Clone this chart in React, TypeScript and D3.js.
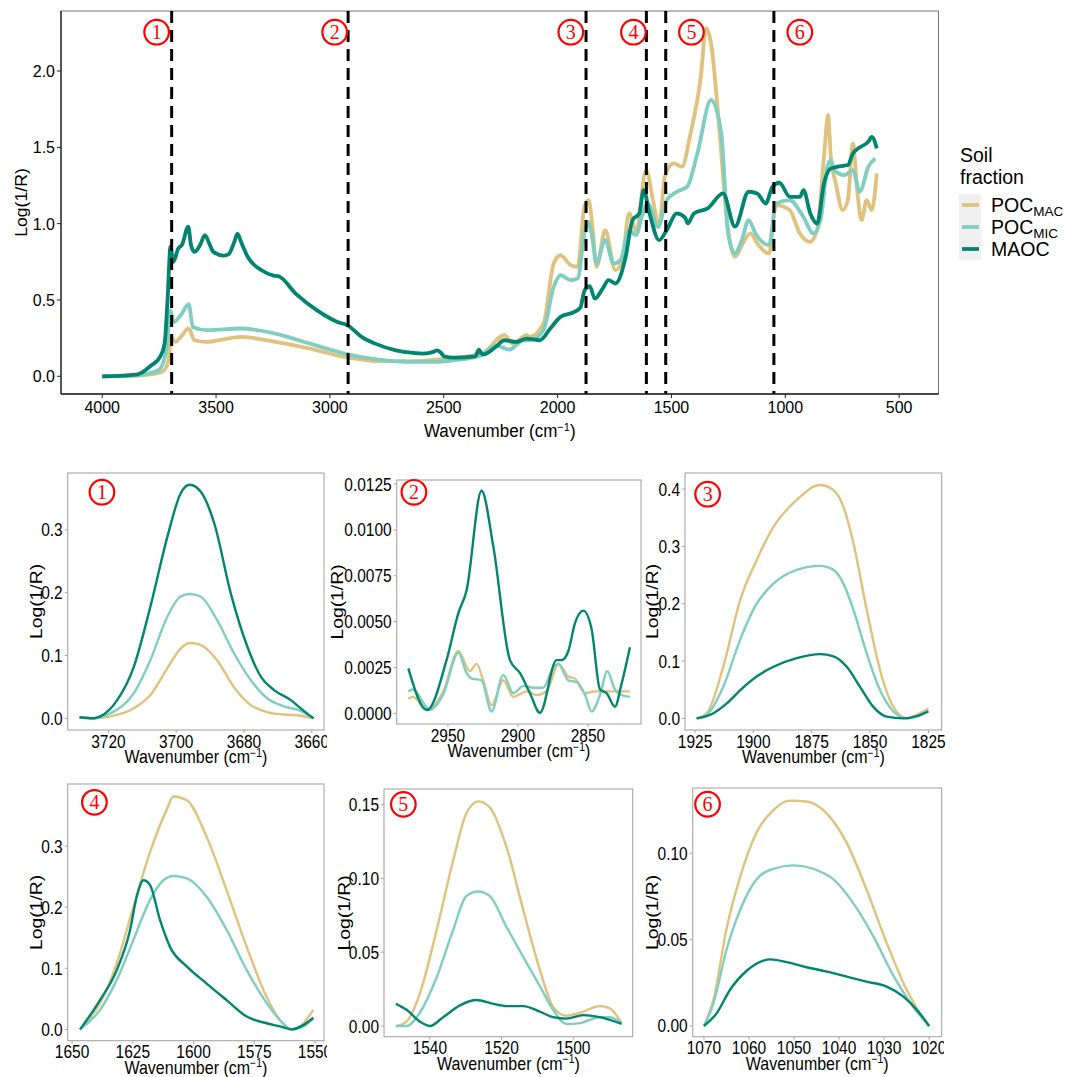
import * as d3 from "d3";
import React from "react";

type Pt = [number, number];

const FONT = "'Liberation Sans', Arial, Helvetica, sans-serif";
const SERIF = "'Liberation Serif', 'Times New Roman', serif";
const C_MAC = "#dfc27d";
const C_MIC = "#80cdc1";
const C_MAOC = "#018571";

// ---- full spectrum (wavenumber, log(1/R)) ----
const mainMAC: Pt[] = [
  [4000, 0], [3844, 0.004], [3738, 0.028], [3708, 0.105], [3698, 0.258], [3678, 0.225],
  [3655, 0.258], [3620, 0.313], [3595, 0.236], [3542, 0.225], [3391, 0.258], [3239, 0.225],
  [3088, 0.181], [2937, 0.127], [2786, 0.1], [2635, 0.1], [2484, 0.116], [2332, 0.149],
  [2234, 0.269], [2196, 0.214], [2136, 0.269], [2122, 0.258], [2062, 0.345], [2017, 0.739],
  [1987, 0.793], [1942, 0.728], [1912, 0.717], [1882, 1.11], [1864, 1.154], [1844, 0.936],
  [1829, 0.717], [1791, 0.957], [1746, 0.695], [1716, 0.761], [1686, 1.067], [1656, 0.957],
  [1611, 1.351], [1581, 1.154], [1554, 0.979], [1529, 1.307], [1491, 1.395], [1454, 1.373],
  [1416, 1.591], [1371, 1.963], [1348, 2.28], [1326, 2.181], [1288, 1.591], [1258, 1.045],
  [1221, 0.783], [1183, 0.881], [1153, 0.936], [1123, 0.87], [1071, 0.804], [1041, 1.121],
  [981, 1.089], [936, 0.936], [891, 0.881], [860, 0.957], [830, 1.438], [812, 1.711],
  [800, 1.438], [778, 1.263], [748, 1.089], [725, 1.154], [703, 1.526], [683, 1.198],
  [665, 1.023], [643, 1.154], [620, 1.089], [598, 1.329],
];
const mainMIC: Pt[] = [
  [4000, 0], [3844, 0.007], [3754, 0.039], [3730, 0.1], [3716, 0.192], [3701, 0.433],
  [3686, 0.356], [3655, 0.4], [3620, 0.472], [3602, 0.323], [3542, 0.302], [3391, 0.313],
  [3239, 0.28], [3088, 0.214], [2937, 0.149], [2786, 0.109], [2635, 0.094], [2559, 0.094],
  [2453, 0.105], [2332, 0.138], [2272, 0.203], [2211, 0.175], [2151, 0.236], [2122, 0.236],
  [2062, 0.302], [2017, 0.586], [1987, 0.662], [1942, 0.63], [1912, 0.64], [1882, 0.936],
  [1867, 1.012], [1851, 0.936], [1829, 0.739], [1791, 0.892], [1754, 0.739], [1724, 0.761],
  [1686, 0.957], [1656, 0.925], [1626, 1.067], [1604, 1.132], [1559, 0.979], [1521, 1.154],
  [1476, 1.209], [1431, 1.242], [1386, 1.46], [1326, 1.81], [1281, 1.591], [1251, 0.936],
  [1221, 0.804], [1191, 0.892], [1161, 1.023], [1131, 0.936], [1071, 0.859], [1041, 1.132],
  [981, 1.154], [921, 1.045], [876, 0.936], [845, 1.023], [815, 1.373], [800, 1.416],
  [785, 1.351], [740, 1.318], [703, 1.351], [673, 1.209], [635, 1.373], [605, 1.427],
];
const mainMAOC: Pt[] = [
  [4000, 0], [3900, 0.005], [3844, 0.013], [3784, 0.072], [3746, 0.127], [3726, 0.214],
  [3713, 0.5], [3700, 0.85], [3688, 0.75], [3665, 0.84], [3650, 0.86], [3622, 0.98],
  [3610, 0.86], [3595, 0.815], [3570, 0.86], [3549, 0.925], [3530, 0.87], [3512, 0.815],
  [3466, 0.79], [3444, 0.8], [3420, 0.88], [3406, 0.935], [3390, 0.88], [3360, 0.78],
  [3300, 0.695], [3247, 0.66], [3225, 0.655], [3149, 0.54], [3058, 0.433], [2967, 0.356],
  [2922, 0.334], [2861, 0.258], [2801, 0.214], [2710, 0.17], [2635, 0.153], [2589, 0.149],
  [2545, 0.16], [2529, 0.17], [2510, 0.15], [2499, 0.131], [2453, 0.122], [2362, 0.131],
  [2345, 0.175], [2335, 0.15], [2325, 0.144], [2272, 0.192], [2234, 0.236], [2181, 0.225],
  [2136, 0.247], [2078, 0.236], [2032, 0.313], [1987, 0.389], [1926, 0.422], [1900, 0.45],
  [1881, 0.564], [1859, 0.59], [1836, 0.509], [1800, 0.58], [1776, 0.63], [1746, 0.608],
  [1701, 0.783], [1671, 1.023], [1641, 1.067], [1622, 1.22], [1596, 1.067], [1554, 0.892],
  [1521, 0.957], [1476, 1.067], [1440, 1.04], [1428, 1.001], [1401, 1.067], [1341, 1.1],
  [1273, 1.198], [1221, 0.98], [1161, 1.209], [1123, 1.198], [1086, 1.132], [1056, 1.242],
  [1026, 1.268], [980, 1.176], [935, 1.176], [920, 1.22], [890, 1.067], [860, 1.001],
  [830, 1.263], [800, 1.362], [770, 1.373], [740, 1.38], [725, 1.384], [703, 1.46],
  [680, 1.493], [635, 1.537], [620, 1.569], [598, 1.493],
];

const regionLines = [3695, 2920, 1875, 1610, 1525, 1050];
const regionNames = ["1", "2", "3", "4", "5", "6"];
const regionLabelX = [3761, 2979, 1942, 1667, 1412, 936];
const regionLabelY = 2.254;
const mainXTicks = [4000, 3500, 3000, 2500, 2000, 1500, 1000, 500];
const mainYTicks = [0, 0.5, 1, 1.5, 2];

// ---- region 1 ----
const r1MAC: Pt[] = [
  [3728.5, 0.0016], [3724.3, 0], [3719.4, 0.003], [3712.5, 0.016], [3707.6, 0.037], [3702.6, 0.08],
  [3698.7, 0.111], [3696, 0.12], [3692.8, 0.117], [3688, 0.093], [3683, 0.05], [3678, 0.021],
  [3673.2, 0.01], [3668.2, 0.006], [3663.3, 0.004], [3659.5, 0],
];
const r1MIC: Pt[] = [
  [3728.5, 0.0016], [3724.3, 0], [3719.4, 0.008], [3712.5, 0.04], [3707.6, 0.093], [3702.6, 0.162],
  [3698.7, 0.194], [3696, 0.198], [3692.8, 0.194], [3688, 0.157], [3683, 0.104], [3678, 0.061],
  [3673.2, 0.032], [3668.2, 0.019], [3663.3, 0.012], [3659.5, 0],
];
const r1MAOC: Pt[] = [
  [3728.5, 0.0016], [3724.3, 0], [3722.4, 0.003], [3717.4, 0.029], [3712.5, 0.082], [3707.6, 0.178],
  [3702.6, 0.289], [3698.7, 0.358], [3696, 0.372], [3692.8, 0.361], [3688.8, 0.311], [3683.9, 0.199],
  [3679, 0.114], [3675, 0.066], [3671.1, 0.045], [3666.2, 0.029], [3662.2, 0.011], [3659.5, 0],
];

// ---- region 2 ----
const r2MAC: Pt[] = [
  [2978.3, 0.0008], [2975, 0.0009], [2965, 0.0002], [2953.3, 0.0012], [2942.6, 0.0034],
  [2934.3, 0.0023], [2929.5, 0.0027], [2924.8, 0.0018], [2918.8, 0.00045], [2910.5, 0.0018],
  [2903.3, 0.0009], [2893.8, 0.0012], [2886.7, 0.001], [2879.5, 0.0012], [2871, 0.0027],
  [2864, 0.002], [2859.3, 0.0019], [2852, 0.0011], [2845, 0.0012], [2836, 0.0012],
  [2826, 0.0012], [2820, 0.0012],
];
const r2MIC: Pt[] = [
  [2978.3, 0.0012], [2975, 0.0013], [2962.9, 0.0002], [2953.3, 0.00105], [2942.6, 0.0033],
  [2936.7, 0.0022], [2933, 0.0019], [2926, 0.0018], [2918.8, 0.0001], [2910.5, 0.0021],
  [2903.3, 0.0011], [2896, 0.0015], [2889, 0.0014], [2882, 0.0014], [2874.8, 0.0025],
  [2871.2, 0.0027], [2864, 0.0018], [2858, 0.0017], [2852, 0.001], [2847.4, 0.0001],
  [2841.4, 0.001], [2836.2, 0.0023], [2830.7, 0.0013], [2826, 0.001], [2820, 0.0009],
];
const r2MAOC: Pt[] = [
  [2978.3, 0.00245], [2965, 0.00018], [2951, 0.0029], [2942.6, 0.00545], [2936.7, 0.0067],
  [2926, 0.01213], [2917.6, 0.0091], [2905.7, 0.0029], [2898.6, 0.0022], [2891.4, 0.0011],
  [2884.3, 0.00003], [2872.4, 0.0029], [2868.8, 0.0029], [2864, 0.0034], [2859.3, 0.0049],
  [2853.3, 0.0056], [2847.4, 0.0046], [2841.4, 0.0013], [2836.7, 0.0011], [2830.7, 0.00036],
  [2826, 0.0016], [2820, 0.0036],
];

// ---- region 3 ----
const r3MAC: Pt[] = [
  [1924.3, 0], [1920, 0.009], [1912.9, 0.09], [1905.7, 0.206], [1898.6, 0.276], [1891.4, 0.334],
  [1881.4, 0.381], [1871.4, 0.407], [1865.7, 0.398], [1861.4, 0.369], [1857.1, 0.305],
  [1851.4, 0.189], [1845.7, 0.084], [1840, 0.02], [1834.3, 0], [1830, 0.006], [1825, 0.017],
];
const r3MIC: Pt[] = [
  [1924.3, 0], [1920, 0.006], [1912.9, 0.055], [1905.7, 0.137], [1898.6, 0.2], [1891.4, 0.235],
  [1881.4, 0.259], [1871.4, 0.266], [1865.7, 0.259], [1861.4, 0.235], [1857.1, 0.189],
  [1851.4, 0.113], [1845.7, 0.049], [1840, 0.012], [1834.3, 0], [1830, 0.003], [1825, 0.013],
];
const r3MAOC: Pt[] = [
  [1924.3, 0], [1917.1, 0.009], [1911.4, 0.026], [1905.7, 0.049], [1898.6, 0.073], [1891.4, 0.09],
  [1881.4, 0.105], [1871.4, 0.112], [1865.7, 0.108], [1860, 0.09], [1854.3, 0.055],
  [1848.6, 0.02], [1842.9, 0.003], [1835.7, 0], [1830, 0.004], [1825, 0.012],
];

// ---- region 4 ----
const r4MAC: Pt[] = [
  [1646.7, 0], [1638.5, 0.043], [1631.6, 0.108], [1624.8, 0.2], [1617.9, 0.29], [1611, 0.36],
  [1608.3, 0.381], [1602.8, 0.375], [1594.6, 0.315], [1586.4, 0.228], [1578.1, 0.135],
  [1569.9, 0.053], [1564.4, 0.015], [1559.6, 0], [1554.8, 0.01], [1550.7, 0.032],
];
const r4MIC: Pt[] = [
  [1646.7, 0], [1638.5, 0.032], [1631.6, 0.081], [1624.8, 0.146], [1617.9, 0.212], [1612.4, 0.244],
  [1608.3, 0.251], [1602.8, 0.247], [1594.6, 0.217], [1586.4, 0.163], [1578.1, 0.097],
  [1569.9, 0.043], [1564.4, 0.015], [1559.6, 0], [1554.8, 0.005], [1550.7, 0.018],
];
const r4MAOC: Pt[] = [
  [1646.7, 0], [1638.5, 0.048], [1631.6, 0.097], [1626.1, 0.163], [1623.4, 0.217], [1620.6, 0.244],
  [1617.9, 0.236], [1613.8, 0.179], [1609.7, 0.135], [1602.8, 0.103], [1594.6, 0.075],
  [1586.4, 0.048], [1578.1, 0.021], [1569.9, 0.01], [1564.4, 0.005], [1559.6, 0],
  [1554.8, 0.007], [1550.7, 0.019],
];

// ---- region 5 ----
const r5MAC: Pt[] = [
  [1549.5, 0], [1546.5, 0.003], [1542.8, 0.022], [1538.1, 0.065], [1533.5, 0.112], [1529.8, 0.144],
  [1526.5, 0.152], [1523.3, 0.148], [1518.6, 0.121], [1514, 0.079], [1509.3, 0.038],
  [1505.6, 0.013], [1501.9, 0.007], [1498.1, 0.009], [1492.6, 0.0135], [1489.8, 0.012],
  [1486.5, 0.002],
];
const r5MIC: Pt[] = [
  [1549.5, 0], [1546.5, 0], [1542.8, 0.009], [1538.1, 0.033], [1533.5, 0.065], [1529.8, 0.088],
  [1526.5, 0.091], [1523.3, 0.088], [1518.6, 0.067], [1514, 0.047], [1509.3, 0.027],
  [1505.6, 0.011], [1501.9, 0.0014], [1498.1, 0.002], [1492.6, 0.006], [1489.8, 0.006],
  [1486.5, 0.002],
];
const r5MAOC: Pt[] = [
  [1549.5, 0.015], [1546.5, 0.011], [1542.8, 0.003], [1540, 0], [1536.3, 0.006], [1531.6, 0.014],
  [1527, 0.0176], [1522.3, 0.015], [1518.6, 0.0135], [1514, 0.0135], [1509.3, 0.0097],
  [1505.6, 0.006], [1501.9, 0.005], [1497.2, 0.0074], [1492.6, 0.006], [1486.5, 0.0014],
];

// ---- region 6 ----
const r6MAC: Pt[] = [
  [1070, 0], [1067.9, 0.015], [1065, 0.056], [1062, 0.086], [1058.3, 0.112], [1054.6, 0.125],
  [1050.9, 0.1305], [1047.2, 0.13], [1042.7, 0.123], [1038.3, 0.106], [1033.9, 0.079],
  [1029.4, 0.048], [1025, 0.021], [1022, 0.0073], [1020, 0],
];
const r6MIC: Pt[] = [
  [1070, 0], [1067.9, 0.013], [1065, 0.044], [1062, 0.067], [1058.3, 0.085], [1054.6, 0.091],
  [1050.1, 0.093], [1045.7, 0.091], [1041.3, 0.085], [1036.8, 0.071], [1032.4, 0.052],
  [1027.9, 0.029], [1023.5, 0.011], [1020, 0],
];
const r6MAOC: Pt[] = [
  [1070, 0], [1067.2, 0.0073], [1064.2, 0.021], [1060.5, 0.032], [1056.8, 0.0378], [1055.3, 0.0386],
  [1051.6, 0.037], [1047.2, 0.034], [1042.7, 0.0315], [1038.3, 0.0286], [1033.9, 0.0257],
  [1029.4, 0.0228], [1025.7, 0.017], [1022.7, 0.0093], [1020, 0],
];

const fractions = ["POC_MAC", "POC_MIC", "MAOC"];
const fractionColors = [C_MAC, C_MIC, C_MAOC];

// panel layout (plot box) + scales
const panels = [
  { id: 1, box: [67.7, 473, 324, 730], xd: [3732, 3656.4], yd: [-0.0186, 0.3906], xt: [3720, 3700, 3680, 3660], yt: [0, 0.1, 0.2, 0.3], fmt: ".1f", data: [r1MAC, r1MIC, r1MAOC], lab: [3721.9, 0.36], ytx: 36, clip: [0, 327] },
  { id: 2, box: [396.7, 480, 641, 724], xd: [2986.6, 2812.1], yd: [-0.00058, 0.01272], xt: [2950, 2900, 2850], yt: [0, 0.0025, 0.005, 0.0075, 0.01, 0.0125], fmt: ".4f", data: [r2MAC, r2MIC, r2MAOC], lab: [2974.3, 0.01205], ytx: 337, clip: [327, 645] },
  { id: 3, box: [685, 473, 941.7, 730], xd: [1929.3, 1819.3], yd: [-0.0203, 0.428], xt: [1925, 1900, 1875, 1850, 1825], yt: [0, 0.1, 0.2, 0.3, 0.4], fmt: ".1f", data: [r3MAC, r3MIC, r3MAOC], lab: [1919.6, 0.391], ytx: 652, clip: [645, 946] },
  { id: 4, box: [67.7, 784, 324, 1040.7], xd: [1651.8, 1546.3], yd: [-0.0185, 0.4015], xt: [1650, 1625, 1600, 1575, 1550], yt: [0, 0.1, 0.2, 0.3], fmt: ".1f", data: [r4MAC, r4MIC, r4MAOC], lab: [1640.8, 0.3715], ytx: 36, clip: [0, 327] },
  { id: 5, box: [384, 789, 632.7, 1036.7], xd: [1552.8, 1483.4], yd: [-0.0072, 0.1604], xt: [1540, 1520, 1500], yt: [0, 0.05, 0.1, 0.15], fmt: ".2f", data: [r5MAC, r5MIC, r5MAOC], lab: [1547.4, 0.15], ytx: 344, clip: [327, 645] },
  { id: 6, box: [692.7, 788, 941.7, 1036.7], xd: [1072.5, 1017.2], yd: [-0.0062, 0.1378], xt: [1070, 1060, 1050, 1040, 1030, 1020], yt: [0, 0.05, 0.1], fmt: ".2f", data: [r6MAC, r6MIC, r6MAOC], lab: [1069.2, 0.1284], ytx: 652, clip: [645, 944] },
];

const T = ({ x, y, sy = 1, rot = 0, children, ...rest }: any) => (
  <text transform={`translate(${x},${y}) scale(1,${sy})${rot ? ` rotate(${rot})` : ""}`} {...rest}>
    {children}
  </text>
);

const Circled = ({ cx, cy, label }: { cx: number; cy: number; label: string }) => (
  <g>
    <circle cx={cx} cy={cy} r={12.3} fill="white" stroke="#ff0000" strokeWidth={2.2} />
    <text x={cx} y={cy + 7} textAnchor="middle" fontFamily={SERIF} fontSize={20} fill="#ff0000">
      {label}
    </text>
  </g>
);

const XTitle = ({ x, y, sy, size }: any) => (
  <T x={x} y={y} sy={sy} textAnchor="middle" fontSize={size}>
    Wavenumber (cm
    <tspan dy={-5.5} fontSize={size * 0.65}>−1</tspan>
    <tspan dy={5.5}>)</tspan>
  </T>
);

function MainChart() {
  const [L, Tp, R, B] = [61, 11, 938.5, 394];
  const x = d3.scaleLinear().domain([4181, 327]).range([L, R]);
  const y = d3.scaleLinear().domain([-0.116, 2.393]).range([B, Tp]);
  const line = d3.line<Pt>().x((d) => x(d[0])).y((d) => y(d[1])).curve(d3.curveMonotoneX);
  const sy = 1.07;
  return (
    <g fontFamily={FONT}>
      <rect x={L} y={Tp} width={R - L} height={B - Tp} fill="white" stroke="#777" strokeWidth={1} />
      {[mainMAC, mainMIC, mainMAOC].map((s, i) => (
        <path key={i} d={line(s) || ""} fill="none" stroke={fractionColors[i]} strokeWidth={3.8} strokeLinejoin="round" />
      ))}
      {regionLines.map((v) => (
        <line key={v} x1={x(v)} x2={x(v)} y1={Tp} y2={B} stroke="black" strokeWidth={3} strokeDasharray="12 7" />
      ))}
      {regionNames.map((n, i) => (
        <Circled key={n} cx={x(regionLabelX[i])} cy={y(regionLabelY)} label={n} />
      ))}
      <line x1={L} x2={L} y1={Tp} y2={B} stroke="#222" strokeWidth={1.3} />
      <line x1={L} x2={R} y1={B} y2={B} stroke="#222" strokeWidth={1.3} />
      {mainYTicks.map((v) => (
        <g key={v}>
          <line x1={L - 4} x2={L} y1={y(v)} y2={y(v)} stroke="#222" />
          <T x={L - 6} y={y(v) + 6} sy={sy} textAnchor="end" fontSize={16}>{d3.format(".1f")(v)}</T>
        </g>
      ))}
      {mainXTicks.map((v) => (
        <g key={v}>
          <line x1={x(v)} x2={x(v)} y1={B} y2={B + 4} stroke="#222" />
          <T x={x(v)} y={B + 19} sy={sy} textAnchor="middle" fontSize={16}>{v}</T>
        </g>
      ))}
      <XTitle x={(L + R) / 2} y={437} sy={sy} size={17} />
      <T x={27} y={(Tp + B) / 2} sy={sy} rot={-90} textAnchor="middle" fontSize={16.5}>Log(1/R)</T>

      {/* legend */}
      <text x={960} y={162} fontSize={19.5}>Soil</text>
      <text x={960} y={184} fontSize={19.5}>fraction</text>
      <rect x={959} y={194} width={22} height={66} fill="#f0f0f0" />
      {fractions.map((f, i) => {
        const cy = 205 + i * 22;
        const [main, sub] = f.split("_");
        return (
          <g key={f}>
            <line x1={962} x2={979} y1={cy} y2={cy} stroke={fractionColors[i]} strokeWidth={3.8} />
            <text x={991} y={cy + 7} fontSize={19.5}>
              {main}
              {sub && <tspan dy={4} fontSize={13.5}>{sub}</tspan>}
            </text>
          </g>
        );
      })}
    </g>
  );
}

function Panel({ p }: { p: (typeof panels)[number] }) {
  const [L, Tp, R, B] = p.box;
  const x = d3.scaleLinear().domain(p.xd).range([L, R]);
  const y = d3.scaleLinear().domain(p.yd).range([B, Tp]);
  const line = d3.line<Pt>().x((d) => x(d[0])).y((d) => y(d[1])).curve(d3.curveMonotoneX);
  const sy = 1.15;
  const fmt = d3.format(p.fmt);
  const cid = `clip-p${p.id}`;
  return (
    <g fontFamily={FONT}>
      <clipPath id={cid}>
        <rect x={p.clip[0]} y={Tp - 40} width={p.clip[1] - p.clip[0]} height={B - Tp + 90} />
      </clipPath>
      <g clipPath={`url(#${cid})`}>
        <rect x={L} y={Tp} width={R - L} height={B - Tp} fill="white" stroke="#a6a6a6" strokeWidth={1.1} />
        {p.data.map((s, i) => (
          <path key={i} d={line(s) || ""} fill="none" stroke={fractionColors[i]} strokeWidth={2.4} strokeLinejoin="round" />
        ))}
        <Circled cx={x(p.lab[0])} cy={y(p.lab[1])} label={String(p.id)} />
        {p.yt.map((v) => (
          <g key={v}>
            <line x1={L - 3} x2={L} y1={y(v)} y2={y(v)} stroke="#a6a6a6" />
            <T x={L - 5} y={y(v) + 6.5} sy={sy} textAnchor="end" fontSize={15.5}>{fmt(v)}</T>
          </g>
        ))}
        {p.xt.map((v) => (
          <g key={v}>
            <line x1={x(v)} x2={x(v)} y1={B} y2={B + 3} stroke="#a6a6a6" />
            <T x={x(v)} y={B + 17.5} sy={sy} textAnchor="middle" fontSize={15.5}>{v}</T>
          </g>
        ))}
        <XTitle x={(L + R) / 2} y={B + 33} sy={sy} size={16} />
        <T x={p.ytx + 6} y={(Tp + B) / 2} sy={sy} rot={-90} textAnchor="middle" fontSize={16.8}>Log(1/R)</T>
      </g>
    </g>
  );
}

export default function App() {
  return (
    <svg width={1066} height={1077} style={{ position: "absolute", left: 0, top: 0, background: "white" }}>
      <rect width={1066} height={1077} fill="white" />
      <MainChart />
      {panels.map((p) => (
        <Panel key={p.id} p={p} />
      ))}
    </svg>
  );
}
